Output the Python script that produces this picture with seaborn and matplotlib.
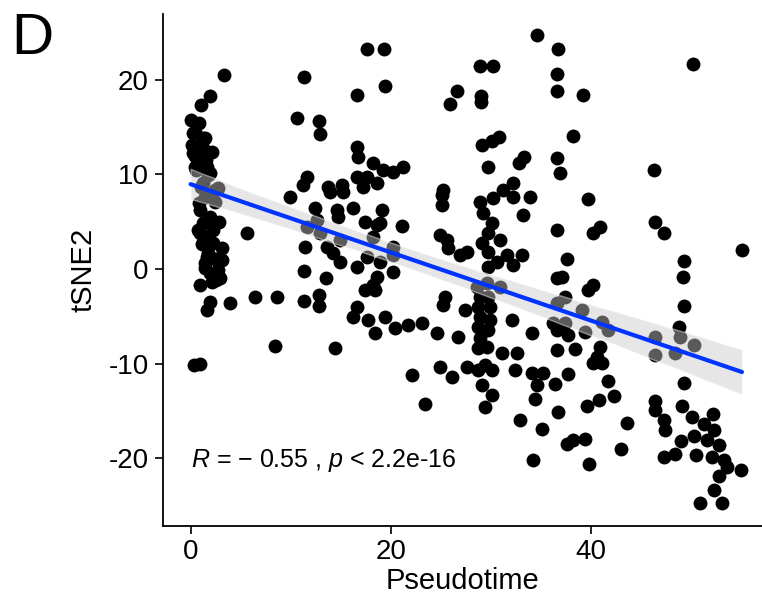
import numpy as np
import pandas as pd
import matplotlib
matplotlib.use("Agg")
import matplotlib.pyplot as plt
import seaborn as sns

pseudotime = [
    3.36, 11.36, 1.93, 1.0, 0.0, 0.83, 10.6, 12.83, 12.93, 0.26, 1.26, 0.1, 0.93, 0.26, 2.1, 1.26, 0.43, 1.6,
    16.6, 11.6, 11.26, 13.76, 15.1, 16.6, 16.76, 16.6, 1.93, 1.26,
    34.66, 17.6, 19.33, 19.43, 28.93, 30.2, 26.6, 25.93, 29.0, 29.0, 36.76, 36.6, 36.66,
    29.1, 30.1, 30.86, 29.76, 32.86, 33.33, 32.26, 31.26, 25.26, 36.6, 36.93,
    18.26, 21.26, 20.26, 19.26, 17.6, 18.6, 17.26,
    50.2, 39.2, 38.2, 46.26,
    5.66, 0.93, 1.26, 0.93, 2.26, 1.76, 3.1, 1.6, 3.1, 1.43, 2.76, 2.93, 0.93, 2.1, 1.93, 1.6, 3.93, 2.26, 1.93,
    0.3, 0.9, 6.43, 8.66, 11.33, 12.86, 12.86, 8.43, 14.43, 9.93, 11.43, 11.33, 13.5, 12.43, 12.6, 11.6, 12.93,
    13.6, 14.26, 14.93, 14.93, 14.6, 14.76, 16.26, 13.93, 15.26, 16.6, 16.26, 16.6,
    19.1, 18.93, 21.1, 17.43, 25.1, 25.1, 28.93, 30.26, 32.26, 33.93, 29.26, 33.26, 30.1, 29.76, 30.93, 29.1,
    29.76, 33.1, 31.6, 32.26, 29.76, 30.6, 24.93, 25.6, 25.76, 26.93, 27.6, 36.6, 36.6,
    18.6, 18.26, 20.26, 20.26, 17.6, 18.93, 20.26, 18.6, 18.26, 17.43, 18.43, 17.76, 18.43, 19.43, 20.43, 21.76, 23.1,
    25.43, 25.26, 27.43, 24.6, 26.76, 29.6, 30.93, 28.6, 28.93, 29.76, 28.76, 29.93, 28.93, 29.93, 28.76, 29.76,
    28.93, 29.6, 28.76, 32.1, 34.1, 31.1, 32.6, 36.6, 36.26, 36.6, 36.6,
    39.76, 40.93, 40.26, 46.43, 47.26, 55.1, 37.66, 37.1, 40.26, 39.76, 37.43, 49.33, 49.2, 49.33, 48.76, 48.93,
    50.26, 46.43, 46.43, 48.43, 39.1, 41.1, 41.76, 37.76, 39.43, 40.93, 38.43, 40.6, 37.43,
    22.1, 23.43, 24.93, 26.1, 27.66, 28.76, 29.43, 30.1, 29.1, 30.1, 29.43, 32.43, 34.1, 35.26, 34.6, 34.43,
    36.43, 32.93, 35.1, 34.26, 36.76,
    40.26, 41.1, 37.76, 41.76, 40.86, 39.6, 42.33, 43.66, 37.6, 38.2, 39.43, 43.0, 39.86,
    49.33, 46.43, 46.43, 49.1, 47.33, 47.43, 50.1, 52.2, 51.33, 52.33, 50.33, 51.6, 49.0, 52.76, 48.43, 47.26,
    50.53, 52.1, 53.26, 53.6, 55.0, 52.76, 52.33, 50.86, 53.1,
    2.4, 0.8, 1.9, 2.8, 1.1, 2.4,
    0.56, 1.73, 1.07, 2.73, 1.4, 2.4,
    0.4, 1.4, 1.2, 0.4, 1.56,
    2.06, 0.73, 1.73, 1.4, 2.56,
]
tsne2 = [
    20.45, 20.29, 18.31, 17.35, 15.77, 15.45, 15.95, 15.69, 14.29, 14.36, 13.83, 13.12, 12.94, 12.24, 12.41, 11.53, 10.83, 10.83,
    18.41, 9.77, 8.89, 8.71, 8.89, 12.94, 11.88, 9.77, 10.13, 9.07,
    24.69, 23.25, 23.25, 19.29, 21.41, 21.41, 18.76, 17.43, 18.31, 17.7, 23.25, 20.6, 18.76,
    13.12, 13.58, 14.0, 10.83, 11.25, 11.82, 9.07, 8.36, 8.36, 11.71, 10.13,
    11.18, 10.83, 10.3, 10.48, 9.77, 9.07, 8.71,
    21.66, 18.41, 14.07, 10.48,
    3.84, 6.24, 4.84, 3.78, 4.13, 3.42, 2.19, 1.3, 0.95, 0.07, -0.11, -0.98, -1.69, -1.34, -3.46, -4.34, -3.63, 2.72, -0.42,
    -10.1, -10.0, -2.99, -2.93, -3.35, -2.75, -3.92, -8.15, -8.39, 7.59, 2.3, -0.21, -0.98, 6.42, 5.19, 4.48, 3.78,
    2.36, 1.66, 0.77, 3.07, 6.24, 5.53, 6.42, 8.18, 8.18, 0.24, -5.05, -3.99,
    6.24, 4.84, 4.55, 5.0, 7.83, 6.77, 7.12, 7.48, 7.65, 7.65, 5.89, 5.71, 4.84, 3.84, 3.07, 2.72,
    1.83, 1.48, 1.48, 0.42, 0.24, 0.77, 3.6, 3.07, 2.19, 1.48, 1.83, 4.13, -0.98,
    4.66, 3.42, 2.36, 1.48, 1.3, 0.77, -0.29, -0.81, -1.69, -2.22, -2.22, -5.4, -6.8, -5.05, -6.28, -5.93, -5.75,
    -2.93, -3.81, -4.34, -6.8, -7.16, -1.51, -1.87, -1.87, -2.93, -2.93, -3.99, -3.99, -5.05, -5.4, -6.1, -6.46,
    -7.33, -8.22, -8.39, -5.4, -6.8, -8.92, -8.92, -6.46, -5.75, -8.57, -3.63,
    7.38, 4.48, 3.78, 5.0, 3.84, 2.01, 1.03, -0.88, -1.69, -2.22, -2.99, 0.85, -0.81, -3.92, -6.1, -7.16,
    -8.04, -7.16, -9.1, -8.92, -4.34, -5.58, -6.46, -6.98, -6.63, -8.22, -8.5, -9.28, -5.75,
    -11.22, -14.21, -10.34, -11.46, -10.34, -10.69, -10.16, -10.69, -12.28, -13.33, -14.63, -10.69, -10.97, -10.97, -12.28, -13.68,
    -12.17, -15.98, -16.86, -20.14, -15.1,
    -9.98, -9.98, -11.04, -11.82, -13.79, -14.5, -13.44, -16.26, -18.44, -18.1, -17.92, -18.97, -20.63,
    -12.03, -13.94, -14.92, -14.5, -15.98, -17.04, -15.63, -15.27, -16.33, -17.04, -17.67, -18.1, -18.17, -18.62, -19.5, -19.86,
    -19.68, -19.86, -20.14, -20.92, -21.27, -21.9, -23.39, -24.73, -24.73,
    8.4, 7.0, 5.5, 5.0, 2.6, 1.1,
    10.5, 9.95, 8.7, 8.54, 7.65, 7.12,
    14.5, 13.8, 12.8, 11.9, 11.5,
    5.19, 4.13, 1.66, 0.6, -1.16,
]
x_ticks = [0, 20, 40]
y_ticks = [-20, -10, 0, 10, 20]
annotation = r"$\mathit{R}$ = $-$ 0.55 , $\mathit{p}$ < 2.2e-16"

df = pd.DataFrame({"Pseudotime": pseudotime, "tSNE2": tsne2})

sns.set_style("ticks")
plt.rcParams["font.family"] = ["Liberation Sans", "DejaVu Sans"]
plt.rcParams["axes.unicode_minus"] = False
plt.rcParams["mathtext.fontset"] = "custom"
plt.rcParams["mathtext.it"] = "Liberation Sans:italic"
plt.rcParams["mathtext.rm"] = "Liberation Sans"
plt.rcParams["text.color"] = "black"
plt.rcParams["axes.labelcolor"] = "black"
plt.rcParams["xtick.color"] = "black"
plt.rcParams["ytick.color"] = "black"

fig = plt.figure(figsize=(7.62, 6.03), dpi=100)
ax = fig.add_axes([0.2133, 0.1285, 0.7867, 0.8491])

sns.scatterplot(data=df, x="Pseudotime", y="tSNE2", ax=ax, color="black",
                s=100, linewidth=0, zorder=1)
n_before = len(ax.collections)
sns.regplot(data=df, x="Pseudotime", y="tSNE2", ax=ax, scatter=False, ci=95,
            color="#0033FF", line_kws={"linewidth": 3.0, "zorder": 3})
for coll in ax.collections[n_before:]:
    coll.set_facecolor("#C8C8C8")
    coll.set_alpha(0.45)
    coll.set_zorder(2)

ax.set_xlim(-2.8, 57.1)
ax.set_ylim(-27.1, 27.0)
ax.set_xticks(x_ticks)
ax.set_yticks(y_ticks)
ax.tick_params(axis="both", labelsize=20, length=6, width=1.2, color="black",
               labelcolor="black", direction="out", pad=4)
for side in ["left", "bottom"]:
    ax.spines[side].set_linewidth(1.3)
    ax.spines[side].set_color("black")
sns.despine(ax=ax)
ax.set_xlabel("Pseudotime", fontsize=21, labelpad=1)
ax.set_ylabel("tSNE2", fontsize=21, labelpad=8)

ax.text(0, -20.2, annotation, fontsize=18, ha="left", va="center", color="black")

fig.text(0.015, 0.935, "D", fontsize=42, ha="left", va="center", color="black")

fig.savefig("out.png", dpi=100)
